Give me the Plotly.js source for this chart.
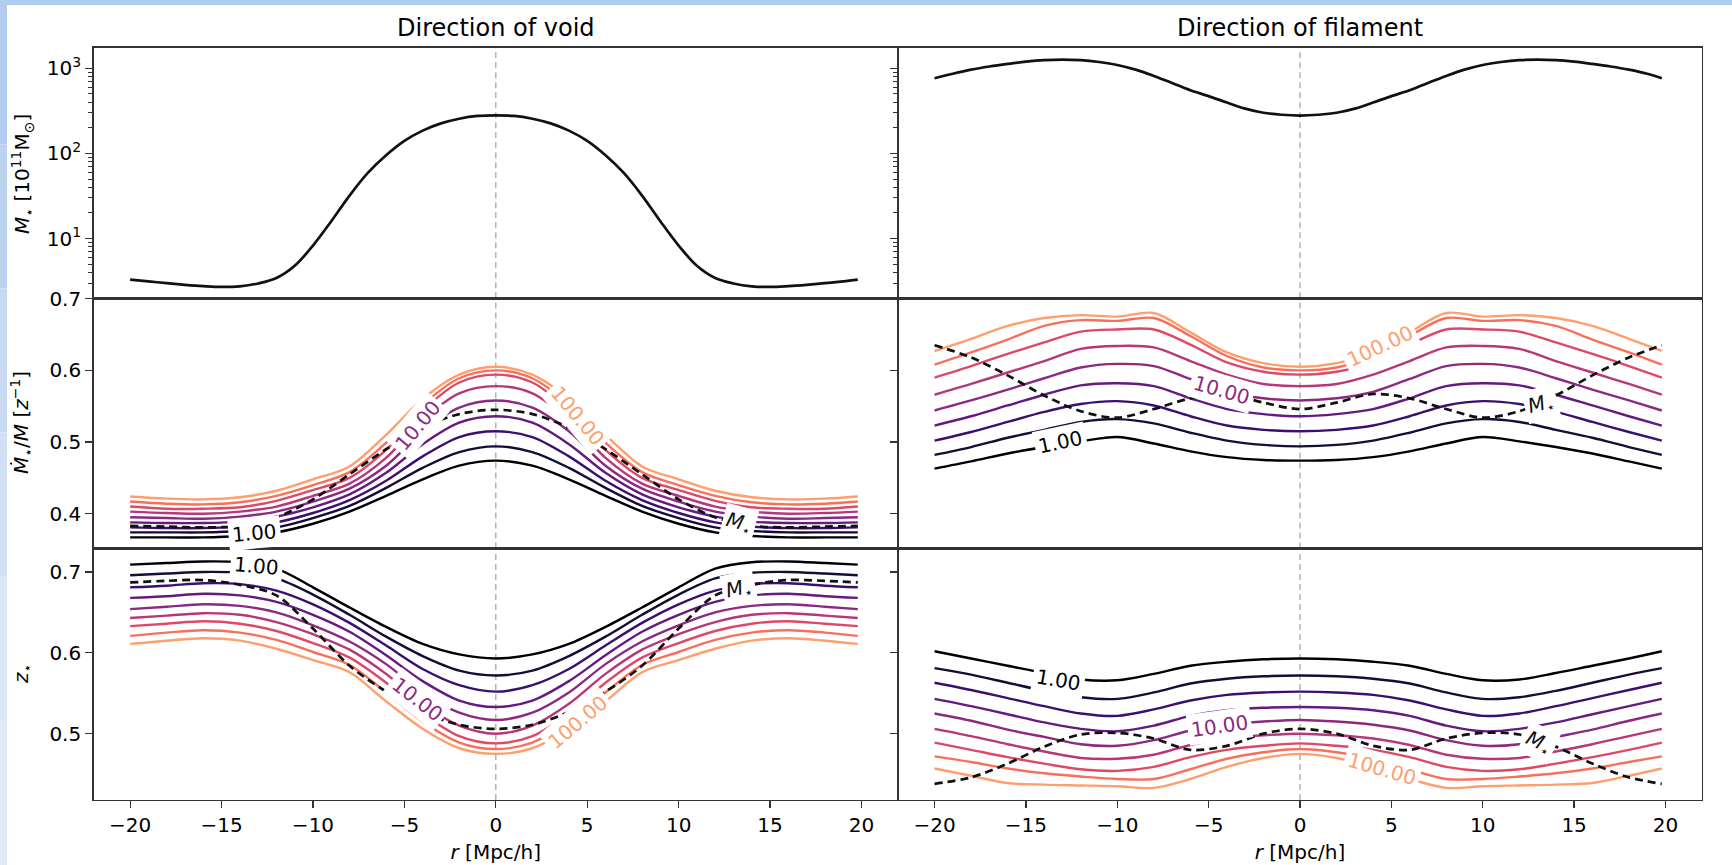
<!DOCTYPE html>
<html>
<head>
<meta charset="utf-8">
<script src="https://cdn.plot.ly/plotly-3.0.1.min.js"></script>
<style>
html, body { margin: 0; padding: 0; background: #ffffff; }
#chart { width: 1732px; height: 865px; }
</style>
</head>
<body>
<div id="chart"></div>
<script>
// ---------------- DATA ----------------
// radial positions r [Mpc/h]
const rTop = [-20,-19,-18,-17,-16,-15,-14,-13,-12,-11,-10,-9,-8,-7,-6,-5,-4,-3,-2,-1,0,1,2,3,4,5,6,7,8,9,10,11,12,13,14,15,16,17,18,19,19.8];
const rC = [-20,-18,-16,-14,-12,-10,-8,-6,-4,-2,0,2,4,6,8,10,12,14,16,18,19.8];

// top row: M* [1e11 Msun]
const massVoid = [3.30,3.15,3.00,2.87,2.77,2.71,2.76,2.98,3.45,4.8,8.3,16,32,59,95,140,185,225,255,275,280,275,255,225,185,140,95,59,32,16,8.3,4.8,3.45,2.98,2.76,2.71,2.77,2.87,3.00,3.15,3.30];
const massFil = [760,860,960,1045,1120,1190,1240,1260,1240,1180,1090,960,810,670,550,470,395,335,300,284,278,284,300,335,395,470,550,670,810,960,1090,1180,1240,1260,1240,1190,1120,1045,960,860,760];

// contour levels (M_halo / 1e11 Msun) and their labels
const levels = [1.00, 1.78, 3.16, 5.62, 10.00, 17.78, 31.62, 56.23, 100.00];
const levelColors = ['#000004','#140e36','#3b0f70','#641a80','#8c2981','#b73779','#de4968','#f7705c','#fe9f6d'];

// middle row: dM*/M [z^-1], direction of void (one row per level)
const sfrVoid = [
 [.367,.367,.367,.369,.374,.386,.403,.425,.448,.467,.474,.467,.448,.425,.403,.386,.374,.369,.367,.367,.367],
 [.374,.374,.374,.376,.381,.394,.411,.436,.464,.486,.494,.486,.464,.436,.411,.394,.381,.376,.374,.374,.374],
 [.381,.380,.380,.382,.388,.401,.419,.446,.480,.507,.515,.507,.480,.446,.419,.401,.388,.382,.380,.380,.381],
 [.388,.387,.387,.389,.396,.409,.427,.457,.497,.527,.536,.527,.497,.457,.427,.409,.396,.389,.387,.387,.388],
 [.395,.394,.393,.396,.403,.417,.435,.467,.515,.548,.558,.548,.515,.467,.435,.417,.403,.396,.393,.394,.395],
 [.403,.401,.400,.403,.410,.425,.442,.478,.531,.568,.578,.568,.531,.478,.442,.425,.410,.403,.400,.401,.403],
 [.410,.407,.407,.409,.418,.433,.450,.489,.544,.583,.594,.583,.544,.489,.450,.433,.418,.409,.407,.407,.410],
 [.417,.414,.413,.416,.425,.440,.458,.499,.552,.589,.600,.589,.552,.499,.458,.440,.425,.416,.413,.414,.417],
 [.424,.421,.420,.423,.432,.448,.466,.510,.560,.594,.605,.594,.560,.510,.466,.448,.432,.423,.420,.421,.424]
];
const sfrVoidMstar = [.383,.382,.381,.383,.395,.420,.455,.490,.520,.539,.545,.539,.520,.490,.455,.420,.395,.383,.381,.382,.383];

// middle row, direction of filament
const sfrFil = [
 [.463,.473,.484,.493,.501,.507,.498,.487,.479,.475,.474,.475,.479,.487,.498,.507,.501,.493,.484,.473,.463],
 [.482,.493,.506,.517,.528,.532,.526,.513,.502,.496,.494,.496,.502,.513,.526,.532,.528,.517,.506,.493,.482],
 [.502,.514,.528,.542,.553,.557,.551,.536,.523,.517,.515,.517,.523,.536,.551,.557,.553,.542,.528,.514,.502],
 [.523,.536,.551,.566,.579,.582,.578,.561,.546,.539,.536,.539,.546,.561,.578,.582,.579,.566,.551,.536,.523],
 [.544,.558,.573,.589,.604,.609,.606,.588,.570,.561,.558,.561,.570,.588,.606,.609,.604,.589,.573,.558,.544],
 [.566,.581,.597,.613,.630,.634,.632,.613,.594,.581,.578,.581,.594,.613,.632,.634,.630,.613,.597,.581,.566],
 [.590,.606,.623,.639,.654,.657,.657,.636,.611,.598,.594,.598,.611,.636,.657,.657,.654,.639,.623,.606,.590],
 [.608,.625,.643,.662,.670,.669,.673,.648,.620,.604,.600,.604,.620,.648,.673,.669,.670,.662,.643,.625,.608],
 [.627,.644,.662,.673,.677,.675,.680,.653,.625,.610,.605,.610,.625,.653,.680,.675,.677,.673,.662,.644,.627]
];
const sfrFilMstar = [.635,.618,.593,.565,.543,.534,.546,.561,.567,.555,.546,.555,.567,.561,.546,.534,.543,.565,.593,.618,.635];

// bottom row: z*, direction of void
const zVoid = [
 [.709,.711,.713,.712,.704,.681,.656,.632,.611,.598,.593,.598,.611,.632,.656,.681,.704,.712,.713,.711,.709],
 [.696,.698,.700,.699,.692,.672,.647,.620,.596,.578,.572,.578,.596,.620,.647,.672,.692,.699,.700,.698,.696],
 [.681,.683,.686,.685,.677,.660,.637,.609,.580,.560,.552,.560,.580,.609,.637,.660,.677,.685,.686,.683,.681],
 [.668,.670,.673,.671,.663,.647,.626,.597,.565,.541,.533,.541,.565,.597,.626,.647,.663,.671,.673,.670,.668],
 [.654,.657,.660,.658,.650,.634,.614,.586,.551,.526,.517,.526,.551,.586,.614,.634,.650,.658,.660,.657,.654],
 [.643,.646,.649,.647,.638,.623,.604,.574,.537,.510,.500,.510,.537,.574,.604,.623,.638,.647,.649,.646,.643],
 [.633,.636,.639,.636,.627,.612,.594,.563,.525,.497,.488,.497,.525,.563,.594,.612,.627,.636,.639,.636,.633],
 [.621,.625,.628,.625,.616,.601,.585,.551,.515,.489,.481,.489,.515,.551,.585,.601,.616,.625,.628,.625,.621],
 [.611,.615,.618,.615,.605,.591,.576,.540,.506,.482,.475,.482,.506,.540,.576,.591,.605,.615,.618,.615,.611]
];
const zVoidMstar = [.687,.689,.690,.684,.671,.630,.584,.552,.527,.511,.506,.511,.527,.552,.584,.630,.671,.684,.690,.689,.687];

// bottom row, direction of filament
const zFil = [
 [.602,.593,.584,.575,.567,.566,.574,.584,.589,.592,.593,.592,.589,.584,.574,.566,.567,.575,.584,.593,.602],
 [.581,.573,.563,.553,.545,.543,.551,.562,.568,.571,.572,.571,.568,.562,.551,.543,.545,.553,.563,.573,.581],
 [.563,.554,.544,.534,.525,.522,.530,.541,.548,.551,.552,.551,.548,.541,.530,.522,.525,.534,.544,.554,.563],
 [.543,.534,.524,.514,.506,.503,.510,.522,.529,.532,.533,.532,.529,.522,.510,.503,.506,.514,.524,.534,.543],
 [.525,.516,.505,.496,.487,.485,.492,.504,.511,.515,.517,.515,.511,.504,.492,.485,.487,.496,.505,.516,.525],
 [.506,.497,.487,.478,.470,.469,.474,.486,.494,.498,.500,.498,.494,.486,.474,.469,.470,.478,.487,.497,.506],
 [.489,.480,.471,.463,.456,.454,.459,.471,.480,.485,.488,.485,.480,.471,.459,.454,.456,.463,.471,.480,.489],
 [.472,.465,.457,.451,.447,.444,.444,.456,.469,.477,.481,.477,.469,.456,.444,.444,.447,.451,.457,.465,.472],
 [.457,.448,.439,.437,.436,.435,.433,.444,.459,.470,.475,.470,.459,.444,.433,.435,.436,.437,.439,.448,.457]
];
const zFilMstar = [.438,.446,.463,.484,.499,.501,.494,.480,.485,.500,.506,.500,.485,.480,.494,.501,.499,.484,.463,.446,.438];

// tick labels
const xTickVals = [-20,-15,-10,-5,0,5,10,15,20];
const xTickText = ['\u221220','\u221215','\u221210','\u22125','0','5','10','15','20'];
const massTickVals = [10,100,1000];
const massTickText = ['10<sup>1</sup>','10<sup>2</sup>','10<sup>3</sup>'];
const massMinorVals = [2,3,4,5,6,7,8,9,20,30,40,50,60,70,80,90,200,300,400,500,600,700,800,900];
const sfrTickVals = [0.4,0.5,0.6,0.7];
const zTickVals = [0.5,0.6,0.7];

// inline contour labels: [r, value, level index or 'M', angle]
const labelsSfrVoid = [[-13.2,0.373,0,-5],[-4.3,0.523,4,-50],[4.5,0.537,8,50],[13.3,0.387,'M',15]];
const labelsSfrFil  = [[-13.1,0.500,0,-12],[-4.3,0.572,4,16],[4.4,0.634,8,-25],[13.2,0.553,'M',-15]];
const labelsZVoid   = [[-13.1,0.707,0,5],[-4.3,0.543,4,38],[4.5,0.514,8,-40],[13.3,0.679,'M',-12]];
const labelsZFil    = [[-13.2,0.566,0,10],[-4.4,0.510,4,-8],[4.5,0.4565,8,16],[13.1,0.489,'M',25]];

// ---------------- BUILD ----------------
const FONT = 'DejaVu Sans, Liberation Sans, sans-serif';
const traces = [];

traces.push({x: rTop, y: massVoid, xaxis: 'x', yaxis: 'y', mode: 'lines',
  line: {color: '#111111', width: 2.7, shape: 'spline', smoothing: 1}, hoverinfo: 'skip'});
traces.push({x: rTop, y: massFil, xaxis: 'x2', yaxis: 'y2', mode: 'lines',
  line: {color: '#111111', width: 2.7, shape: 'spline', smoothing: 1}, hoverinfo: 'skip'});

function addContours(rows, mstar, xa, ya) {
  rows.forEach(function (row, i) {
    traces.push({x: rC, y: row, xaxis: xa, yaxis: ya, mode: 'lines',
      line: {color: levelColors[i], width: 2.4, shape: 'spline', smoothing: 0.9}, hoverinfo: 'skip'});
  });
  traces.push({x: rC, y: mstar, xaxis: xa, yaxis: ya, mode: 'lines',
    line: {color: '#111111', width: 2.7, dash: '8px,5px', shape: 'spline', smoothing: 0.9}, hoverinfo: 'skip'});
}
addContours(sfrVoid, sfrVoidMstar, 'x3', 'y3');
addContours(sfrFil, sfrFilMstar, 'x4', 'y4');
addContours(zVoid, zVoidMstar, 'x5', 'y5');
addContours(zFil, zFilMstar, 'x6', 'y6');

const annotations = [];
function addLabels(list, xa, ya) {
  list.forEach(function (l) {
    const isM = l[2] === 'M';
    annotations.push({
      x: l[0], y: l[1], xref: xa, yref: ya, showarrow: false,
      text: isM ? '<i>M</i><sub>\u22c6</sub>' : levels[l[2]].toFixed(2),
      font: {family: FONT, size: 20, color: isM ? '#111111' : levelColors[l[2]]},
      bgcolor: '#ffffff', borderpad: 3, textangle: l[3],
      xanchor: 'center', yanchor: 'middle'
    });
  });
}
addLabels(labelsSfrVoid, 'x3', 'y3');
addLabels(labelsSfrFil, 'x4', 'y4');
addLabels(labelsZVoid, 'x5', 'y5');
addLabels(labelsZFil, 'x6', 'y6');

// panel titles
annotations.push({x: (0.05404 + 0.51848) / 2, y: 1 - 28 / 865, xref: 'paper', yref: 'paper', showarrow: false,
  text: 'Direction of void', font: {family: FONT, size: 24, color: '#000'}, xanchor: 'center', yanchor: 'middle'});
annotations.push({x: (0.51848 + 0.98268) / 2, y: 1 - 28 / 865, xref: 'paper', yref: 'paper', showarrow: false,
  text: 'Direction of filament', font: {family: FONT, size: 24, color: '#000'}, xanchor: 'center', yanchor: 'middle'});
// y-axis titles
const yTitleX = 22 / 1732;
annotations.push({x: yTitleX, y: 1 - 174 / 865, xref: 'paper', yref: 'paper', showarrow: false, textangle: -90,
  text: '<i>M</i><sub>\u22c6</sub> [10<sup>11</sup>M<sub>\u2299</sub>]', font: {family: FONT, size: 20, color: '#000'},
  xanchor: 'center', yanchor: 'middle'});
annotations.push({x: yTitleX, y: 1 - 423 / 865, xref: 'paper', yref: 'paper', showarrow: false, textangle: -90,
  text: '<i>\u1e40</i><sub>\u22c6</sub>/<i>M</i> [<i>z</i><sup>\u22121</sup>]', font: {family: FONT, size: 20, color: '#000'},
  xanchor: 'center', yanchor: 'middle'});
annotations.push({x: yTitleX, y: 1 - 674 / 865, xref: 'paper', yref: 'paper', showarrow: false, textangle: -90,
  text: '<i>z</i><sub>\u22c6</sub>', font: {family: FONT, size: 20, color: '#000'},
  xanchor: 'center', yanchor: 'middle'});

// shapes: r=0 reference lines + blue frame
const shapes = [];
[['x','y'],['x2','y2'],['x3','y3'],['x4','y4'],['x5','y5'],['x6','y6']].forEach(function (p) {
  shapes.push({type: 'line', xref: p[0], yref: p[1] + ' domain', x0: 0, x1: 0, y0: 0, y1: 1,
    line: {color: '#a8a8a8', width: 1.3, dash: '6px,4px'}, layer: 'below'});
});
shapes.push({type: 'rect', xref: 'paper', yref: 'paper', x0: 0, x1: 1, y0: 1 - 5 / 865, y1: 1,
  fillcolor: '#afcbee', line: {width: 0}, layer: 'below'});
const stripCols = ['#b1ccee','#bcd3f0','#c7daf2','#d1e1f4','#dae7f6','#e0ebf7'];
stripCols.forEach(function (c, i) {
  shapes.push({type: 'rect', xref: 'paper', yref: 'paper', x0: 0, x1: 7 / 1732,
    y0: 1 - (i + 1) / stripCols.length, y1: 1 - i / stripCols.length,
    fillcolor: c, line: {width: 0}, layer: 'below'});
});

const XL = [0.05404, 0.51848], XR = [0.51848, 0.98268];
const YT = [0.65514, 0.94486], YM = [0.36590, 0.65514], YB = [0.07514, 0.36590];
const AX = {showline: true, mirror: true, linecolor: '#333333', linewidth: 1.4, zeroline: false, showgrid: false,
  tickcolor: '#333333', tickwidth: 1.3, tickfont: {family: FONT, size: 20, color: '#000'}, fixedrange: true};

function xAxis(domain, anchor, bottom) {
  const a = Object.assign({}, AX, {domain: domain, anchor: anchor, range: [-22, 22],
    tickmode: 'array', tickvals: xTickVals, ticktext: xTickText});
  if (bottom) {
    a.ticks = 'outside'; a.ticklen = 7; a.showticklabels = true;
    a.title = {text: '<i>r</i> [Mpc/h]', font: {family: FONT, size: 20, color: '#000'}, standoff: 8};
  } else {
    a.ticks = ''; a.showticklabels = false;
  }
  return a;
}
function yAxis(domain, anchor, opts) {
  return Object.assign({}, AX, {domain: domain, anchor: anchor, ticks: 'outside', ticklen: 7}, opts);
}

const layout = {
  width: 1732, height: 865,
  margin: {l: 0, r: 0, t: 0, b: 0},
  paper_bgcolor: '#ffffff', plot_bgcolor: '#ffffff',
  showlegend: false,
  font: {family: FONT, size: 20, color: '#000'},
  xaxis: xAxis(XL, 'y', false),
  xaxis2: xAxis(XR, 'y2', false),
  xaxis3: xAxis(XL, 'y3', false),
  xaxis4: xAxis(XR, 'y4', false),
  xaxis5: xAxis(XL, 'y5', true),
  xaxis6: xAxis(XR, 'y6', true),
  yaxis: yAxis(YT, 'x', {type: 'log', range: [0.30, 3.24], tickmode: 'array', tickvals: massTickVals, ticktext: massTickText,
    minor: {ticks: 'outside', ticklen: 4, tickcolor: '#333333', tickwidth: 1, tickmode: 'array', tickvals: massMinorVals, showgrid: false}}),
  yaxis2: yAxis(YT, 'x2', {type: 'log', range: [0.30, 3.24], tickmode: 'array', tickvals: massTickVals, showticklabels: false,
    minor: {ticks: 'outside', ticklen: 4, tickcolor: '#333333', tickwidth: 1, tickmode: 'array', tickvals: massMinorVals, showgrid: false}}),
  yaxis3: yAxis(YM, 'x3', {range: [0.3515, 0.7005], tickmode: 'array', tickvals: sfrTickVals, ticktext: sfrTickVals.map(String)}),
  yaxis4: yAxis(YM, 'x4', {range: [0.3515, 0.7005], tickmode: 'array', tickvals: sfrTickVals, showticklabels: false}),
  yaxis5: yAxis(YB, 'x5', {range: [0.418, 0.729], tickmode: 'array', tickvals: zTickVals, ticktext: zTickVals.map(String)}),
  yaxis6: yAxis(YB, 'x6', {range: [0.418, 0.729], tickmode: 'array', tickvals: zTickVals, showticklabels: false}),
  annotations: annotations,
  shapes: shapes
};

Plotly.newPlot('chart', traces, layout, {staticPlot: true, displayModeBar: false});
</script>
</body>
</html>
